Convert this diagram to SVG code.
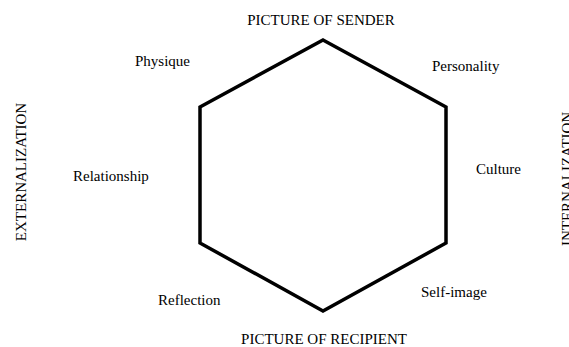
<svg xmlns="http://www.w3.org/2000/svg" width="569" height="347" viewBox="0 0 569 347">
<style>
text{font-family:"Liberation Serif","Times New Roman",serif;font-size:15px;fill:#000}
.m{text-anchor:middle}
.hex{fill:none;stroke:#000;stroke-width:3.5;stroke-linejoin:miter}
</style>
<rect width="569" height="347" fill="#fff"/>
<g id="hexagon"><polygon class="hex" points="323,40 446,107 446,243 323,311 200,243 200,107"/></g>
<g id="connectors"></g>
<g id="sender"><text class="m" x="321" y="25">PICTURE OF SENDER</text></g>
<g id="recipient"><text class="m" x="324" y="344">PICTURE OF RECIPIENT</text></g>
<g id="physique"><text x="135" y="66">Physique</text></g>
<g id="personality"><text x="432" y="71">Personality</text></g>
<g id="relationship"><text x="73" y="181">Relationship</text></g>
<g id="culture"><text x="476" y="174">Culture</text></g>
<g id="reflection"><text x="158" y="305">Reflection</text></g>
<g id="selfimage"><text x="421" y="297">Self-image</text></g>
<g id="externalization"><text class="m" transform="translate(26,172) rotate(-90)">EXTERNALIZATION</text></g>
<g id="internalization"><text class="m" transform="translate(572,179) rotate(-90)">INTERNALIZATION</text></g>
</svg>
